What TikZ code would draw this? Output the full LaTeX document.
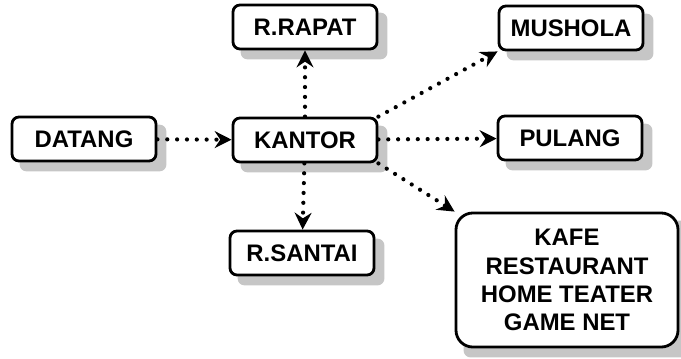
\documentclass[tikz,border=0pt]{standalone}
\usepackage{fontspec}
\setmainfont{Liberation Sans}
\usetikzlibrary{arrows.meta,backgrounds}

\begin{document}
\begin{tikzpicture}[x=0.025cm, y=-0.025cm,
  box/.style={draw, line width=2pt, rounded corners=5pt, fill=white,
    minimum width=3.6cm, minimum height=1.1cm, align=center,
    font=\fontsize{17}{20}\selectfont\bfseries},
  shade box/.style={fill=gray!45, rounded corners=5pt},
  flow/.style={line width=3pt, line cap=round, dash pattern=on 0pt off 7pt,
    -{Stealth[length=12pt, width=12pt, inset=4pt]}}]

\useasboundingbox (0,0) rectangle (681,358);

% ruang
\node[box] (datang) at (84,139) {DATANG};
\node[box] (kantor) at (305,140) {KANTOR};
\node[box] (rrapat) at (305,27) {R.RAPAT};
\node[box] (rsantai) at (302,253) {R.SANTAI};
\node[box] (mushola) at (571,28) {MUSHOLA};
\node[box] (pulang) at (570,138) {PULANG};
\node[box, minimum width=5.55cm, minimum height=3.35cm, rounded corners=12pt] (kafe) at (567,280)
  {KAFE\\RESTAURANT\\HOME TEATER\\GAME NET};

% bayangan
\begin{scope}[on background layer]
\foreach \n in {datang,kantor,rrapat,rsantai,mushola,pulang,kafe}
  \fill[shade box] ([shift={(9,9)}]\n.north west) rectangle ([shift={(9,9)}]\n.south east);
\end{scope}

% alur
\draw[flow] (datang) -- (kantor);
\draw[flow] (kantor) -- (rrapat);
\draw[flow] (kantor) -- (rsantai);
\draw[flow] (kantor.north east) -- (mushola.south west);
\draw[flow] (kantor) -- (pulang);
\draw[flow] (kantor.south east) -- (kafe.north west);

\end{tikzpicture}
\end{document}
